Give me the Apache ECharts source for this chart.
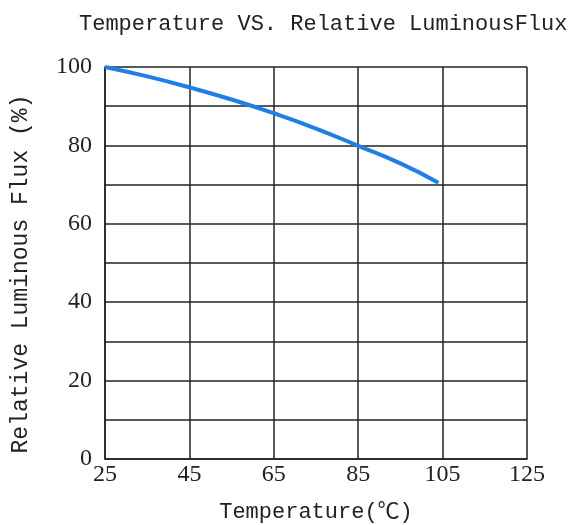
<!DOCTYPE html>
<html>
<head>
<meta charset="utf-8">
<script src="https://cdn.jsdelivr.net/npm/echarts@6/dist/echarts.min.js"></script>
<style>
html,body{margin:0;padding:0;background:#fff;}
#chart{width:577px;height:525px;}
</style>
</head>
<body>
<div id="chart"></div>
<script>
const titleText = 'Temperature VS. Relative LuminousFlux';
const xName = 'Temperature(℃)';
const yName = 'Relative Luminous Flux (%)';
const temperature = [25, 35, 45, 55, 65, 75, 85, 95, 104];
const relativeFlux = [100, 97.6, 94.8, 91.7, 88.2, 84.3, 79.9, 75.4, 70.5];
const xTicks = [25, 45, 65, 85, 105, 125];
const yTicks = [0, 20, 40, 60, 80, 100];

const chart = echarts.init(document.getElementById('chart'));
const mono = '"Liberation Mono", "DejaVu Sans Mono", "Noto Sans CJK SC", monospace';
const serif = '"Liberation Serif", "DejaVu Serif", serif';
const gridLine = { color: '#222', width: 1.5 };

chart.setOption({
  animation: false,
  backgroundColor: '#fff',
  title: {
    text: titleText,
    left: 74,
    top: 8,
    textStyle: { fontFamily: mono, fontSize: 22, fontWeight: 'normal', color: '#222' }
  },
  grid: { left: 105, right: 50, top: 67, bottom: 66, containLabel: false, outerBoundsMode: 'none' },
  xAxis: {
    type: 'value',
    min: xTicks[0],
    max: xTicks[xTicks.length - 1],
    interval: 20,
    name: xName,
    nameLocation: 'middle',
    nameGap: 42,
    nameTextStyle: { fontFamily: mono, fontSize: 22, color: '#222' },
    axisLine: { show: true, lineStyle: gridLine },
    axisTick: { show: false },
    axisLabel: {
      fontFamily: serif, fontSize: 24, color: '#222', margin: 4,
      formatter: v => xTicks.includes(v) ? String(v) : ''
    },
    splitLine: { show: true, lineStyle: gridLine }
  },
  yAxis: {
    type: 'value',
    min: 0,
    max: 100,
    interval: 10,
    name: yName,
    nameLocation: 'middle',
    nameGap: 73,
    nameTextStyle: { fontFamily: mono, fontSize: 23, color: '#222', padding: [0, 22, 0, 0] },
    axisLine: { show: true, lineStyle: gridLine },
    axisTick: { show: false },
    axisLabel: {
      fontFamily: serif, fontSize: 24, color: '#222', margin: 13,
      formatter: v => yTicks.includes(v) ? String(v) : ''
    },
    splitLine: { show: true, lineStyle: gridLine }
  },
  series: [{
    type: 'line',
    data: temperature.map((t, i) => [t, relativeFlux[i]]),
    smooth: true,
    showSymbol: false,
    lineStyle: { color: '#1f7fe5', width: 4 },
    itemStyle: { color: '#1f7fe5' }
  }]
});
</script>
</body>
</html>
